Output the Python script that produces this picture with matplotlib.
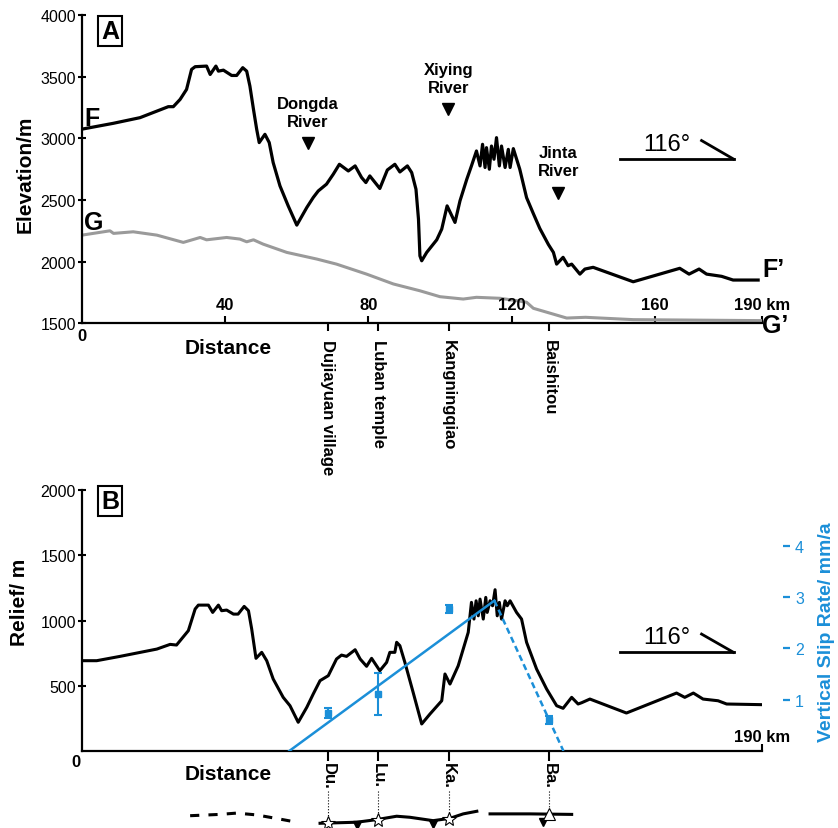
import matplotlib
matplotlib.use("Agg")
import matplotlib.pyplot as plt
import matplotlib.transforms as mtransforms

plt.rcParams['font.family'] = ['Liberation Sans', 'DejaVu Sans']

# profile F-F' (elevation, m) against distance (km)
f_km = [0, 8.7, 16.2, 24.1, 25.5, 27.4, 29.2, 30.6, 31.6, 34.8, 35.8, 37.4, 38.1, 39.5, 41.8, 43.2,
        44.9, 46.0, 46.9, 47.9, 48.8, 49.5, 51.1, 52.3, 53.4, 55.3, 57.6, 60.0, 62.8, 64.6, 66.0,
        68.3, 70.2, 71.9, 74.4, 76.3, 78.1, 79.3, 80.4, 83.2, 85.3, 87.4, 88.8, 90.9, 92.1, 93.3,
        94.0, 94.4, 94.9, 96.3, 99.1, 100.5, 102.0, 104.2, 105.6, 107.5, 108.8,
        110.2, 111.2, 111.9, 112.6, 113.0, 113.8, 114.4, 115.1, 115.8, 116.6, 117.2, 118.2, 119.1,
        119.6, 120.5, 122.3, 124.2, 126.1, 127.9, 130.3, 131.7, 132.6, 134.4, 135.8, 136.8, 139.1,
        140.5, 142.8, 154.0, 167.0, 169.6, 172.4, 174.5, 178.7, 181.9, 188.9]
f_elev = [3075, 3122, 3168, 3257, 3257, 3316, 3397, 3559, 3581, 3586, 3518, 3586, 3545, 3553, 3510, 3510,
          3573, 3545, 3424, 3235, 3073, 2966, 3033, 2966, 2804, 2615, 2453, 2297, 2440, 2521, 2574,
          2629, 2710, 2790, 2736, 2777, 2683, 2642, 2696, 2594, 2744, 2790, 2728, 2777, 2723, 2588,
          2345, 2048, 2008, 2076, 2178, 2265, 2453, 2319, 2494, 2669, 2777,
          2898, 2777, 2952, 2764, 2925, 2750, 2938, 2831, 3006, 2777, 2938, 2764, 2911,
          2764, 2917, 2750, 2520, 2390, 2270, 2140, 2076, 1981, 2036, 1968, 1981, 1900,
          1941, 1955, 1838, 1947, 1900, 1941, 1900, 1882, 1852, 1852]

# profile G-G'
g_km = [0, 7.8, 8.8, 14.3, 20.9, 28.3, 33.0, 34.8, 40.4, 44.1, 46.0, 47.9, 50.6, 57.2, 65.6, 71.1,
        79.5, 87.0, 94.4, 100.0, 106.5, 110.2, 116.8, 121.4, 124.2, 126.1, 135.4, 140.7, 154.0, 190]
g_elev = [2216, 2251, 2230, 2243, 2216, 2157, 2197, 2178, 2197, 2184, 2162, 2178, 2143, 2076, 2022, 1981,
          1900, 1820, 1765, 1717, 1698, 1712, 1704, 1685, 1672, 1623, 1544, 1550, 1531, 1523]

# relief (m)
b_km = [0, 4.1, 10.6, 20.9, 24.6, 26.4, 29.7, 31.6, 32.5, 35.3, 36.5, 38.1, 39.0, 40.4, 42.3, 43.6,
        45.3, 46.5, 47.4, 48.6, 50.2, 51.6, 53.4, 56.2, 58.1, 60.4, 62.8, 64.6, 66.5, 68.8, 71.1,
        72.5, 73.9, 76.3, 77.7, 79.5, 80.9, 83.2, 85.1, 86.0, 87.4, 87.9, 88.8, 90.2, 92.5, 94.9,
        97.2, 100.5, 101.4, 102.8, 105.1, 107.9, 108.8, 109.5, 110.1, 110.7, 111.2, 112.1, 112.8,
        113.2, 114.0, 114.7, 115.4, 116.0, 116.6, 117.2, 118.2, 118.8, 119.6, 121.4, 122.8, 124.2,
        127.0, 129.8, 132.6, 134.4, 136.8, 138.6, 139.6, 141.9, 152.1, 166.1, 168.4, 170.8, 173.5,
        177.7, 180.1, 189.9]
b_relief = [692, 692, 725, 781, 817, 812, 922, 1088, 1118, 1118, 1062, 1118, 1075, 1080, 1049, 1049,
            1108, 1075, 935, 710, 756, 692, 552, 411, 347, 220, 335, 437, 539, 577, 705,
            735, 725, 776, 705, 649, 710, 615, 679, 756, 756, 833, 807, 679, 450, 207,
            283, 385, 590, 513, 653, 909, 1139, 1011, 1151, 1036, 1164, 1011, 1177,
            1062, 1151, 1113, 1236, 1036, 1139, 1011, 1151, 1113, 1151, 1062, 1011, 833,
            628, 475, 347, 327, 411, 360, 370, 398, 291, 444, 411, 444, 398,
            385, 360, 355]

# stations
station_km = [68.7, 82.8, 102.4, 130.6]
station_names = ["Dujiayuan village", "Luban temple", "Kangningqiao", "Baishitou"]
station_short = ["Du.", "Lu.", "Ka.", "Ba."]

# vertical slip rate (mm/a)
rate = [0.74, 1.12, 2.77, 0.60]
rate_lo = [0.10, 0.41, 0.08, 0.08]
rate_hi = [0.10, 0.39, 0.08, 0.08]
fit_km = [57.9, 115.2]
fit_rate = [0, 2.93]
dash_km = [115.2, 134.5]
dash_rate = [2.93, 0]

# rivers
river_names = ["Dongda\nRiver", "Xiying\nRiver", "Jinta\nRiver"]
river_km = [63.1, 102.3, 133.1]
river_mark = [2966, 3235, 2561]
river_text = [3207, 3486, 2815]

# fault trace below panel B (y in axes fraction)
trace_dash_km = [30.2, 38.5, 43.2, 48.8, 55.3, 60.0]
trace_dash_y = [-0.248, -0.243, -0.238, -0.245, -0.261, -0.273]
trace1_km = [66.5, 76.7, 82.3, 87.9, 91.6, 98.1, 102.8, 106.5, 110.3]
trace1_y = [-0.277, -0.273, -0.263, -0.250, -0.254, -0.267, -0.258, -0.241, -0.231]
trace2_km = [114.0, 125.1, 136.8]
trace2_y = [-0.241, -0.241, -0.243]
star_y = [-0.276, -0.263, -0.260]
tri_y = -0.241
teeth_km = [76.7, 98.1, 128.8]
teeth_y = [-0.285, -0.280, -0.272]

blue = '#1b8fd8'

fig = plt.figure(figsize=(8.38, 8.29), dpi=100)
axa = fig.add_axes([0.0979, 0.6086, 0.8115, 0.3721])
axb = fig.add_axes([0.0979, 0.0929, 0.8115, 0.3148])

for ax in (axa, axb):
    ax.spines['top'].set_visible(False)
    ax.spines['right'].set_visible(False)
    ax.spines['left'].set_linewidth(1.6)
    ax.spines['bottom'].set_linewidth(1.6)
    ax.set_xlim(0, 190)
    ax.tick_params(axis='y', direction='inout', length=6, width=1.5, pad=1.5, labelsize=11.5)
    ax.tick_params(axis='x', which='major', direction='in', length=5, width=1.5, labelbottom=False)

# ---- panel A
axa.plot(g_km, g_elev, color='#9a9a9a', lw=2.2, solid_joinstyle='round')
axa.plot(f_km, f_elev, color='black', lw=2.3, solid_joinstyle='round')
axa.set_ylim(1500, 4000)
axa.set_yticks([1500, 2000, 2500, 3000, 3500, 4000])
axa.set_xticks([40, 80, 120, 160, 190])
axa.set_xticks(station_km, minor=True)
axa.set_xticklabels(station_names, minor=True, rotation=-90, fontweight='bold', fontsize=12)
axa.tick_params(axis='x', which='minor', direction='out', length=6, width=1.5, pad=5)
at = mtransforms.blended_transform_factory(axa.transData, axa.transAxes)
for v in [40, 80, 120, 160]:
    axa.text(v, 0.06, str(v), transform=at, ha='center', va='center', fontsize=12, fontweight='bold')
axa.text(190, 0.06, "190 km", transform=at, ha='center', va='center', fontsize=12, fontweight='bold')
axa.text(0, -0.04, "0", transform=axa.transAxes, ha='center', va='center', fontsize=12, fontweight='bold')
axa.text(0.215, -0.079, "Distance", transform=axa.transAxes, ha='center', va='center',
         fontsize=15, fontweight='bold')
axa.text(-0.084, 0.488, "Elevation/m", transform=axa.transAxes, ha='center', va='center',
         rotation=90, fontsize=15, fontweight='bold')
axa.text(0.041, 0.948, "A", transform=axa.transAxes, ha='center', va='center', fontsize=18,
         fontweight='bold', bbox=dict(boxstyle='square,pad=0.12', fc='white', ec='black', lw=1.5))
axa.text(2.7, 3162, "F", ha='center', va='center', fontsize=18, fontweight='bold')
axa.text(3.2, 2321, "G", ha='center', va='center', fontsize=18, fontweight='bold')
axa.text(190, 1941, "F\u2019", ha='left', va='center', fontsize=18, fontweight='bold')
axa.text(190, 1490, "G\u2019", ha='left', va='center', fontsize=18, fontweight='bold', clip_on=False)
for name, x, ym, yt in zip(river_names, river_km, river_mark, river_text):
    axa.plot(x, ym, marker='v', color='black', ms=9, ls='none')
    axa.text(x, yt, name, ha='center', va='center', fontsize=12, fontweight='bold', linespacing=1.25)
axa.plot([0.791, 0.958], [0.533, 0.533], transform=axa.transAxes, color='black', lw=2)
axa.plot([0.911, 0.958], [0.593, 0.533], transform=axa.transAxes, color='black', lw=2)
axa.text(0.86, 0.582, "116\u00b0", transform=axa.transAxes, ha='center', va='center', fontsize=17)

# ---- panel B
axb.plot(b_km, b_relief, color='black', lw=2.2, solid_joinstyle='round')
axb.set_ylim(0, 2000)
axb.set_yticks([500, 1000, 1500, 2000])
axb.set_xticks([190])
axb.set_xticks(station_km, minor=True)
axb.set_xticklabels(station_short, minor=True, rotation=-90, fontweight='bold', fontsize=12)
axb.tick_params(axis='x', which='minor', direction='out', length=7, width=1.5, pad=1)
bt = mtransforms.blended_transform_factory(axb.transData, axb.transAxes)
axb.text(190, 0.055, "190 km", transform=bt, ha='center', va='center', fontsize=12, fontweight='bold')
axb.text(-0.009, -0.042, "0", transform=axb.transAxes, ha='center', va='center', fontsize=12,
         fontweight='bold')
axb.text(0.215, -0.088, "Distance", transform=axb.transAxes, ha='center', va='center',
         fontsize=15, fontweight='bold')
axb.text(-0.092, 0.575, "Relief/ m", transform=axb.transAxes, ha='center', va='center',
         rotation=90, fontsize=15, fontweight='bold')
axb.text(0.041, 0.956, "B", transform=axb.transAxes, ha='center', va='center', fontsize=18,
         fontweight='bold', bbox=dict(boxstyle='square,pad=0.12', fc='white', ec='black', lw=1.5))
axb.plot([0.791, 0.958], [0.378, 0.378], transform=axb.transAxes, color='black', lw=2)
axb.plot([0.911, 0.958], [0.448, 0.378], transform=axb.transAxes, color='black', lw=2)
axb.text(0.86, 0.436, "116\u00b0", transform=axb.transAxes, ha='center', va='center', fontsize=17)

# fault trace and station symbols
axb.plot(trace_dash_km, trace_dash_y, transform=bt, clip_on=False, color='black', lw=2.2,
         dashes=(3, 3))
axb.plot(trace1_km, trace1_y, transform=bt, clip_on=False, color='black', lw=2.2)
axb.plot(trace2_km, trace2_y, transform=bt, clip_on=False, color='black', lw=2.2)
axb.plot(teeth_km, teeth_y, transform=bt, clip_on=False, marker='v', color='black', ms=6, ls='none')
for x, y in zip(station_km[:3], star_y):
    axb.plot([x, x], [-0.155, y], transform=bt, clip_on=False, color='black', lw=0.8, ls=':')
    axb.plot(x, y, transform=bt, clip_on=False, marker='*', ms=10, mfc='white', mec='black',
             mew=0.8, ls='none')
axb.plot([station_km[3], station_km[3]], [-0.155, tri_y], transform=bt, clip_on=False,
         color='black', lw=0.8, ls=':')
axb.plot(station_km[3], tri_y, transform=bt, clip_on=False, marker='^', ms=9, mfc='white',
         mec='black', mew=0.8, ls='none')

# slip-rate axis
ax2 = axb.twinx()
ax2.set_position(axb.get_position())
for s in ['top', 'left', 'bottom']:
    ax2.spines[s].set_visible(False)
ax2.spines['right'].set_position(('axes', 1.0304))
ax2.spines['right'].set_visible(False)
ax2.set_ylim(0, 5.085)
ax2.set_yticks([1, 2, 3, 4])
ax2.tick_params(axis='y', direction='out', length=4.8, width=1.6, colors=blue, labelsize=11.5, pad=4)
ax2.plot(fit_km, fit_rate, color=blue, lw=1.8)
ax2.plot(dash_km, dash_rate, color=blue, lw=1.8, dashes=(2.5, 1.5))
ax2.errorbar(station_km, rate, yerr=[rate_lo, rate_hi], fmt='s', color=blue, ms=4,
             elinewidth=1.5, capsize=3, capthick=1.5)
ax2.text(1.094, 0.46, "Vertical Slip Rate/ mm/a", transform=ax2.transAxes, ha='center',
         va='center', rotation=90, fontsize=14, fontweight='bold', color=blue)

fig.savefig("out.png", dpi=100)
